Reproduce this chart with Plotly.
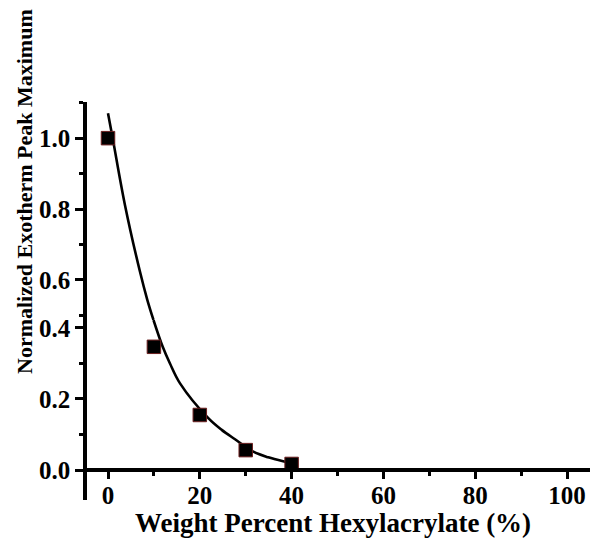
import plotly.graph_objects as go

# Measured data (weight percent hexylacrylate vs normalized exotherm peak maximum)
wt_pct = [0, 10, 20, 30, 40]
peak_max = [1.0, 0.347, 0.155, 0.056, 0.017]

# Fitted curve (the printed y axis is broken near 0.45,
# so the curve is read in two pieces against the local ticks)
fit_upper_x = [0.0, 1.02, 3.7, 6.97, 8.56, 9.91]
fit_upper_y = [1.07, 1.0, 0.811, 0.623, 0.544, 0.487]
fit_lower_x = [9.91, 11.92, 13.5, 15.69, 21.85, 24.77, 27.67, 31.66, 34.92, 38.56, 40.74]
fit_lower_y = [0.4225, 0.347, 0.300, 0.244, 0.146, 0.113, 0.0865, 0.0515, 0.0358, 0.0234, 0.017]

x_ticks = [0, 20, 40, 60, 80, 100]
x_minor = [10, 30, 50, 70, 90]
y_ticks_low = [0.0, 0.2, 0.4]
y_minor_low = [0.1, 0.3]
y_ticks_high = [0.6, 0.8, 1.0]
y_minor_high = [0.5, 0.7, 0.9, 1.1]

FONT = "Liberation Serif"
W, H = 590, 539
ml, mr, mt, mb = 87, 0, 102, 39
plot_h = H - mt - mb
plot_w = W - ml - mr
split_px = 320
d = (H - mb - split_px) / plot_h
xpos = (H - mb - 470) / plot_h

fig = go.Figure()
fig.add_trace(go.Scatter(x=fit_upper_x, y=fit_upper_y, mode="lines", yaxis="y2",
                         line=dict(color="black", width=2.6, shape="spline", smoothing=1),
                         showlegend=False, hoverinfo="skip"))
fig.add_trace(go.Scatter(x=fit_lower_x, y=fit_lower_y, mode="lines", yaxis="y",
                         line=dict(color="black", width=2.6, shape="spline", smoothing=1),
                         showlegend=False, hoverinfo="skip"))
for ya in ["y", "y2"]:
    fig.add_trace(go.Scatter(
        x=wt_pct, y=peak_max, mode="markers", yaxis=ya,
        marker=dict(symbol="square", size=13.5, color="black",
                    line=dict(color="#6b1f1f", width=1)),
        showlegend=False))

tickfont = dict(family=FONT, size=25, color="black", weight="bold")


def yaxis_cfg(domain, rng, vals, minor_vals):
    return dict(domain=domain, range=rng, tickvals=vals, anchor="x",
                showline=True, linecolor="black", linewidth=3.5, ticks="outside",
                ticklen=8, tickwidth=3, tickcolor="black", showgrid=False,
                zeroline=False, tickfont=tickfont, tickformat=".1f",
                minor=dict(tickvals=minor_vals, ticks="outside", ticklen=4,
                           tickwidth=3, tickcolor="black", showgrid=False))


fig.update_layout(
    width=W, height=H,
    margin=dict(l=ml, r=mr, t=mt, b=mb, autoexpand=False),
    paper_bgcolor="white", plot_bgcolor="white",
    font=dict(family=FONT, color="black"),
    xaxis=dict(range=[-4.575, 105.0], anchor="free", position=xpos,
               showline=True, linecolor="black", linewidth=3.5,
               ticks="outside", ticklen=7, tickwidth=3, tickcolor="black",
               tickvals=x_ticks, tickfont=tickfont, showgrid=False, zeroline=False,
               ticklabelstandoff=-5, ticklabeloverflow="allow",
               minor=dict(tickvals=x_minor, ticks="outside", ticklen=4,
                          tickwidth=3, tickcolor="black", showgrid=False)),
    yaxis=yaxis_cfg([0, d], [-0.0845, 0.4225], y_ticks_low, y_minor_low),
    yaxis2=yaxis_cfg([d, 1], [0.487, 1.102], y_ticks_high, y_minor_high),
    annotations=[
        dict(text="<b>Weight Percent Hexylacrylate (%)</b>", xref="paper", yref="paper",
             x=(333 - ml) / plot_w, y=(H - mb - 523) / plot_h,
             showarrow=False, xanchor="center", yanchor="middle",
             font=dict(family=FONT, size=27, color="black")),
        dict(text="<b>Normalized Exotherm Peak Maximum</b>", xref="paper", yref="paper",
             x=(24 - ml) / plot_w, y=(H - mb - 192) / plot_h, textangle=-90,
             showarrow=False, xanchor="center", yanchor="middle",
             font=dict(family=FONT, size=22, color="black")),
    ],
)

fig.write_html(
    "out.html",
    config={"displayModeBar": False},
    post_script="document.body.style.margin='0';document.body.style.overflow='hidden';",
)
